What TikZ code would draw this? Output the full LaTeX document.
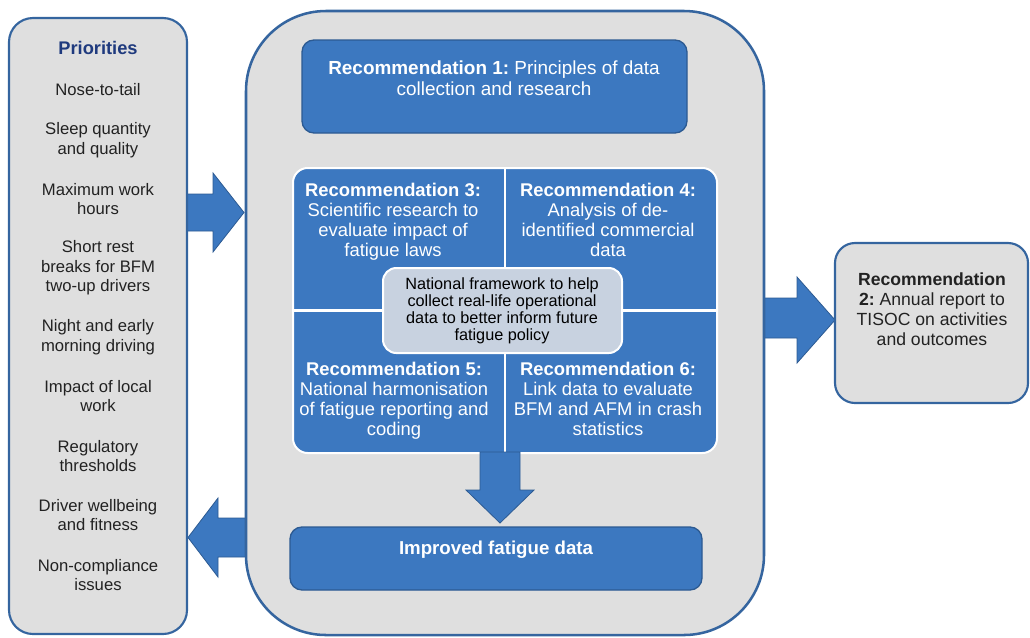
\documentclass[tikz,border=0pt]{standalone}
\usepackage{fontspec}
\setmainfont{Liberation Sans}
\usetikzlibrary{fit}
\definecolor{recblue}{HTML}{3C78C0}
\definecolor{darkblue}{HTML}{2C5A92}
\definecolor{mainblue}{HTML}{35659F}
\definecolor{panelgray}{HTML}{DFDFDF}
\definecolor{centerfill}{HTML}{C8D2E0}
\definecolor{titleblue}{HTML}{1F3A7E}
\definecolor{itemtext}{HTML}{222222}
\begin{document}
\begin{tikzpicture}[x=0.75pt,y=-0.75pt,
  panel/.style={draw=mainblue, line width=1.6pt, fill=panelgray, inner sep=0pt},
  bluebox/.style={draw=darkblue, line width=1pt, fill=recblue, rounded corners=9pt, inner sep=0pt},
  blockarrow/.style={fill=recblue, draw=darkblue, line width=0.6pt},
  pitem/.style={font=\fontsize{12.5}{14.6}\selectfont, align=center, text=itemtext, inner sep=0pt},
  rectext/.style={font=\fontsize{13.8}{15}\selectfont, align=center, text=white, inner sep=0pt},
]
\useasboundingbox (0,0) rectangle (1030,637);

% block arrows between panels
\draw[blockarrow] (183,194) -- (213,194) -- (213,173) -- (244,212.5) -- (213,252) -- (213,231) -- (183,231) -- cycle;
\draw[blockarrow] (252,518) -- (218,518) -- (218,498) -- (188,537.5) -- (218,577) -- (218,557) -- (252,557) -- cycle;
\draw[blockarrow] (758,298) -- (797,298) -- (797,277) -- (835,320) -- (797,363) -- (797,338) -- (758,338) -- cycle;

% panels
\node[panel, rounded corners=18pt, fit={(9,18) (187,634)}] (pri) {};
\node[panel, line width=1.9pt, rounded corners=60pt, fit={(246,11) (764,635)}] (main) {};
\node[panel, rounded corners=15pt, fit={(835,243) (1028,403)}] (r2) {};

% priorities
\node[font=\fontsize{13.7}{15}\selectfont\bfseries, text=titleblue] (ptitle) at (98,48) {Priorities};
\node[pitem] (p1) at (98,90) {Nose-to-tail};
\node[pitem] (p2) at (98,140) {Sleep quantity\\and quality};
\node[pitem] (p3) at (98,199) {Maximum work\\hours};
\node[pitem] (p4) at (98,268) {Short rest\\breaks for BFM\\two-up drivers};
\node[pitem] (p5) at (98,337) {Night and early\\morning driving};
\node[pitem] (p6) at (98,396) {Impact of local\\work};
\node[pitem] (p7) at (98,456) {Regulatory\\thresholds};
\node[pitem] (p8) at (98,515) {Driver wellbeing\\and fitness};
\node[pitem] (p9) at (98,575) {Non-compliance\\issues};

% recommendation 1
\node[bluebox, fit={(302,40) (687,133)}] (r1) {};
\node[font=\fontsize{14.2}{15.8}\selectfont, align=center, text=white] (r1t) at (494,78) {\textbf{Recommendation 1:}~Principles of data\\collection and research};

% grid of recommendations 3-6
\node[fill=recblue, draw=white, line width=1.5pt, rounded corners=11pt, inner sep=0pt, fit={(293,168) (717,453)}] (grid) {};
\draw[white, line width=2.2pt] (grid.north) -- (grid.south);
\draw[white, line width=2.2pt] (grid.west) -- (grid.east);
\node[rectext, anchor=north] (r3) at (393,183) {{\bfseries Recommendation 3:}\\Scientific research to\\evaluate impact of\\fatigue laws};
\node[rectext, anchor=north] (r4) at (608,183) {{\bfseries Recommendation 4:}\\Analysis of de-\\identified commercial\\data};
\node[rectext, anchor=north] (r5) at (394,362) {{\bfseries Recommendation 5:}\\National harmonisation\\of fatigue reporting and\\coding};
\node[rectext, anchor=north] (r6) at (608,362) {{\bfseries Recommendation 6:}\\Link data to evaluate\\BFM and AFM in crash\\statistics};

% centre framework
\node[fill=centerfill, draw=white, line width=1.5pt, rounded corners=10pt, inner sep=0pt, fit={(383,268) (622,353)}] (ctr) {};
\node[font=\fontsize{12.2}{12.8}\selectfont, align=center, text=black, inner sep=0pt] (ctrt) at (502,311) {National framework to help\\collect real-life operational\\data to better inform future\\fatigue policy};

% down arrow
\draw[blockarrow] (480,452) -- (520,452) -- (520,490) -- (534,490) -- (500,523) -- (466,490) -- (480,490) -- cycle;

% improved fatigue data
\node[bluebox, fit={(290,527) (702,590)}] (imp) {};
\node[font=\fontsize{14}{15}\selectfont\bfseries, text=white] (impt) at (496,550) {Improved fatigue data};

% recommendation 2
\node[font=\fontsize{13.2}{15}\selectfont, align=center, text=itemtext, inner sep=0pt] (r2t) at (932,309) {\textbf{Recommendation}\\\textbf{2:}~Annual report to\\TISOC on activities\\and outcomes};
\end{tikzpicture}
\end{document}
